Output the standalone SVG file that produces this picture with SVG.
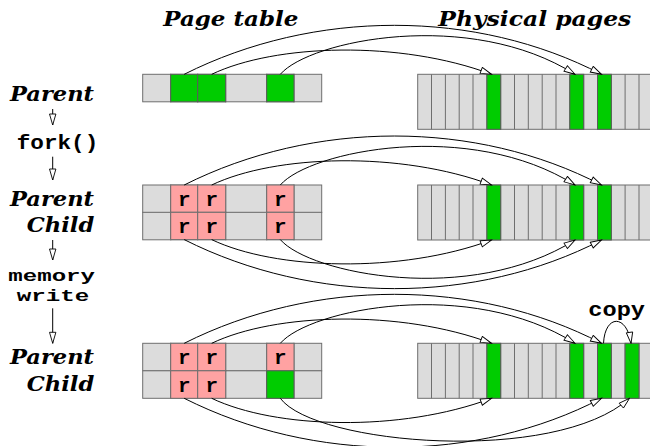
<svg xmlns="http://www.w3.org/2000/svg" xmlns:xlink="http://www.w3.org/1999/xlink" width="650" height="446" viewBox="0 0 650 446">
  <style>
    .cell { fill: #dcdcdc; stroke: #6e6e6e; stroke-width: 1; }
    .grn { fill: #00cc00; stroke: #5a5a5a; stroke-width: 1; }
    .pnk { fill: #ffa2a2; stroke: #6e6e6e; stroke-width: 1; }
    .sep { stroke: #6e6e6e; stroke-width: 1; fill: none; }
    .ttl { font-family: "DejaVu Serif", "Liberation Serif", serif; font-weight: bold; font-style: italic; font-size: 21px; fill: #000; }
    .mono { font-family: "Liberation Mono", "DejaVu Sans Mono", monospace; font-weight: bold; font-size: 20px; fill: #000; }
    .mono.tight { font-size: 17px; }
    .r { font-family: "Liberation Mono", "DejaVu Sans Mono", monospace; font-weight: bold; font-size: 21px; fill: #000; text-anchor: middle; }
    .conn { fill: none; stroke: #000; stroke-width: 1; marker-end: url(#ah); }
  </style>
  <defs>
    <marker id="ah" markerUnits="userSpaceOnUse" markerWidth="14" markerHeight="10" refX="12" refY="4" orient="auto">
      <path d="M1,0.8 L12,4 L1,7.2 z" fill="#fff" stroke="#000" stroke-width="0.9"/>
    </marker>
    <!-- a strip of 17 physical page frames, 55 px tall -->
    <g id="frames">
      <rect class="cell" x="417.7" y="0" width="235.1" height="55"/>
      <path class="sep" d="M431.5,0V55M445.4,0V55M459.2,0V55M473,0V55M486.9,0V55M500.7,0V55M514.5,0V55M528.3,0V55M542.2,0V55M556,0V55M569.8,0V55M583.7,0V55M597.5,0V55M611.3,0V55M625.1,0V55M639,0V55"/>
    </g>
    <!-- one page table row of six entries -->
    <g id="ptrow">
      <rect class="cell" x="142.7" y="0" width="28" height="27.5"/>
      <rect class="cell" x="170.7" y="0" width="27" height="27.5"/>
      <rect class="cell" x="197.7" y="0" width="28" height="27.5"/>
      <rect class="cell" x="225.7" y="0" width="41" height="27.5"/>
      <rect class="cell" x="266.7" y="0" width="27.3" height="27.5"/>
      <rect class="cell" x="294" y="0" width="27.7" height="27.5"/>
    </g>
  </defs>

  <rect width="650" height="446" fill="#fff"/>

  <g id="headers">
    <text class="ttl" x="163.3" y="26" textLength="135" lengthAdjust="spacingAndGlyphs">Page table</text>
    <text class="ttl" x="438.3" y="26" textLength="193" lengthAdjust="spacingAndGlyphs">Physical pages</text>
  </g>

  <!-- left column: process states and events -->
  <g id="label-parent-1">
    <text class="ttl" x="10" y="101" textLength="84" lengthAdjust="spacingAndGlyphs">Parent</text>
  </g>
  <g id="label-fork">
    <text class="mono" x="16.7" y="148.5" textLength="81.6" lengthAdjust="spacingAndGlyphs">fork()</text>
  </g>
  <g id="label-parent-child-2">
    <text class="ttl" x="10" y="205.5" textLength="84" lengthAdjust="spacingAndGlyphs">Parent</text>
    <text class="ttl" x="26.7" y="232" textLength="67.6" lengthAdjust="spacingAndGlyphs">Child</text>
  </g>
  <g id="label-write">
    <text class="mono tight" x="8.3" y="281" textLength="86.7" lengthAdjust="spacingAndGlyphs">memory</text>
    <text class="mono tight" x="16.7" y="300.5" textLength="72.6" lengthAdjust="spacingAndGlyphs">write</text>
  </g>
  <g id="label-parent-child-3">
    <text class="ttl" x="10" y="364" textLength="84" lengthAdjust="spacingAndGlyphs">Parent</text>
    <text class="ttl" x="26.7" y="390.5" textLength="67.6" lengthAdjust="spacingAndGlyphs">Child</text>
  </g>

  <!-- stage 1: parent only -->
  <g id="pt-1">
    <use xlink:href="#ptrow" transform="translate(0,74.3)"/>
    <rect class="grn" x="170.7" y="74.3" width="27" height="27.5"/>
    <rect class="grn" x="197.7" y="74.3" width="28" height="27.5"/>
    <rect class="grn" x="266.7" y="74.3" width="27.3" height="27.5"/>
  </g>
  <g id="phys-1">
    <use xlink:href="#frames" transform="translate(0,74.3)"/>
    <rect class="grn" x="486.9" y="74.3" width="13.8" height="55"/>
    <rect class="grn" x="569.8" y="74.3" width="13.9" height="55"/>
    <rect class="grn" x="597.5" y="74.3" width="13.8" height="55"/>
  </g>

  <!-- stage 2: parent and child share read-only pages -->
  <g id="pt-2">
    <use xlink:href="#ptrow" transform="translate(0,185)"/>
    <use xlink:href="#ptrow" transform="translate(0,212.3)"/>
    <rect class="pnk" x="170.7" y="185" width="27" height="27.3"/>
    <rect class="pnk" x="197.7" y="185" width="28" height="27.3"/>
    <rect class="pnk" x="266.7" y="185" width="27.3" height="27.3"/>
    <rect class="pnk" x="170.7" y="212.3" width="27" height="27.3"/>
    <rect class="pnk" x="197.7" y="212.3" width="28" height="27.3"/>
    <rect class="pnk" x="266.7" y="212.3" width="27.3" height="27.3"/>
    <text class="r" x="184.2" y="205.5">r</text>
    <text class="r" x="211.7" y="205.5">r</text>
    <text class="r" x="280.3" y="205.5">r</text>
    <text class="r" x="184.2" y="232.5">r</text>
    <text class="r" x="211.7" y="232.5">r</text>
    <text class="r" x="280.3" y="232.5">r</text>
  </g>
  <g id="phys-2">
    <use xlink:href="#frames" transform="translate(0,185)"/>
    <rect class="grn" x="486.9" y="185" width="13.8" height="55"/>
    <rect class="grn" x="569.8" y="185" width="13.9" height="55"/>
    <rect class="grn" x="597.5" y="185" width="13.8" height="55"/>
  </g>

  <!-- stage 3: child's written page gets its own copy -->
  <g id="pt-3">
    <use xlink:href="#ptrow" transform="translate(0,343.3)"/>
    <use xlink:href="#ptrow" transform="translate(0,370.8)"/>
    <rect class="pnk" x="170.7" y="343.3" width="27" height="27.5"/>
    <rect class="pnk" x="197.7" y="343.3" width="28" height="27.5"/>
    <rect class="pnk" x="266.7" y="343.3" width="27.3" height="27.5"/>
    <rect class="pnk" x="170.7" y="370.8" width="27" height="27.5"/>
    <rect class="pnk" x="197.7" y="370.8" width="28" height="27.5"/>
    <rect class="grn" x="266.7" y="370.8" width="27.3" height="27.5"/>
    <text class="r" x="184.2" y="364">r</text>
    <text class="r" x="211.7" y="364">r</text>
    <text class="r" x="280.3" y="364">r</text>
    <text class="r" x="184.2" y="391.5">r</text>
    <text class="r" x="211.7" y="391.5">r</text>
  </g>
  <g id="phys-3">
    <use xlink:href="#frames" transform="translate(0,343.3)"/>
    <rect class="grn" x="486.9" y="343.3" width="13.8" height="55"/>
    <rect class="grn" x="569.8" y="343.3" width="13.9" height="55"/>
    <rect class="grn" x="597.5" y="343.3" width="13.8" height="55"/>
    <rect class="grn" x="625.1" y="343.3" width="13.9" height="55"/>
  </g>
  <g id="label-copy">
    <text class="mono" x="588.3" y="316" textLength="56.7" lengthAdjust="spacingAndGlyphs">copy</text>
  </g>

  <g id="connectors">
    <!-- left column flow -->
    <path class="conn" d="M52.7,109 V125"/>
    <path class="conn" d="M52.7,156.7 V180"/>
    <path class="conn" d="M52.7,240 V260"/>
    <path class="conn" d="M52.7,308.3 V343.3"/>

    <!-- stage 1 mappings -->
    <path class="conn" d="M184.2,74.3 C314,9 476,9 601.5,74.3"/>
    <path class="conn" d="M211.7,74.3 C275,44 400,40 491.5,74.3"/>
    <path class="conn" d="M280.3,74.3 C310,40 470,8 575,74.3"/>

    <!-- stage 2 parent mappings -->
    <path class="conn" d="M184.2,185 C314,119.7 476,119.7 601.5,185"/>
    <path class="conn" d="M211.7,185 C275,154.7 400,150.7 491.5,185"/>
    <path class="conn" d="M280.3,185 C310,150.7 470,118.7 575,185"/>
    <!-- stage 2 child mappings -->
    <path class="conn" d="M184.2,239.6 C314,304.9 476,304.9 601.5,240"/>
    <path class="conn" d="M211.7,239.6 C275,269.9 400,273.9 491.5,240"/>
    <path class="conn" d="M280.3,239.6 C310,273.9 470,305.9 575,240"/>

    <!-- stage 3 parent mappings -->
    <path class="conn" d="M184.2,343.3 C314,278 476,278 601.5,343.3"/>
    <path class="conn" d="M211.7,343.3 C275,313 400,309 491.5,343.3"/>
    <path class="conn" d="M280.3,343.3 C310,309 470,277 575,343.3"/>
    <!-- stage 3 child mappings -->
    <path class="conn" d="M184.2,398.3 C314,463.6 476,463.6 601.5,398.3"/>
    <path class="conn" d="M211.7,398.3 C275,428.6 400,432.6 491.5,398.3"/>
    <path class="conn" d="M280.3,398.3 C315,445 555,465 629.5,398.3"/>

    <!-- page copy -->
    <path class="conn" d="M603.5,343.3 C605,314 627,314 631,343.3"/>
  </g>
</svg>
